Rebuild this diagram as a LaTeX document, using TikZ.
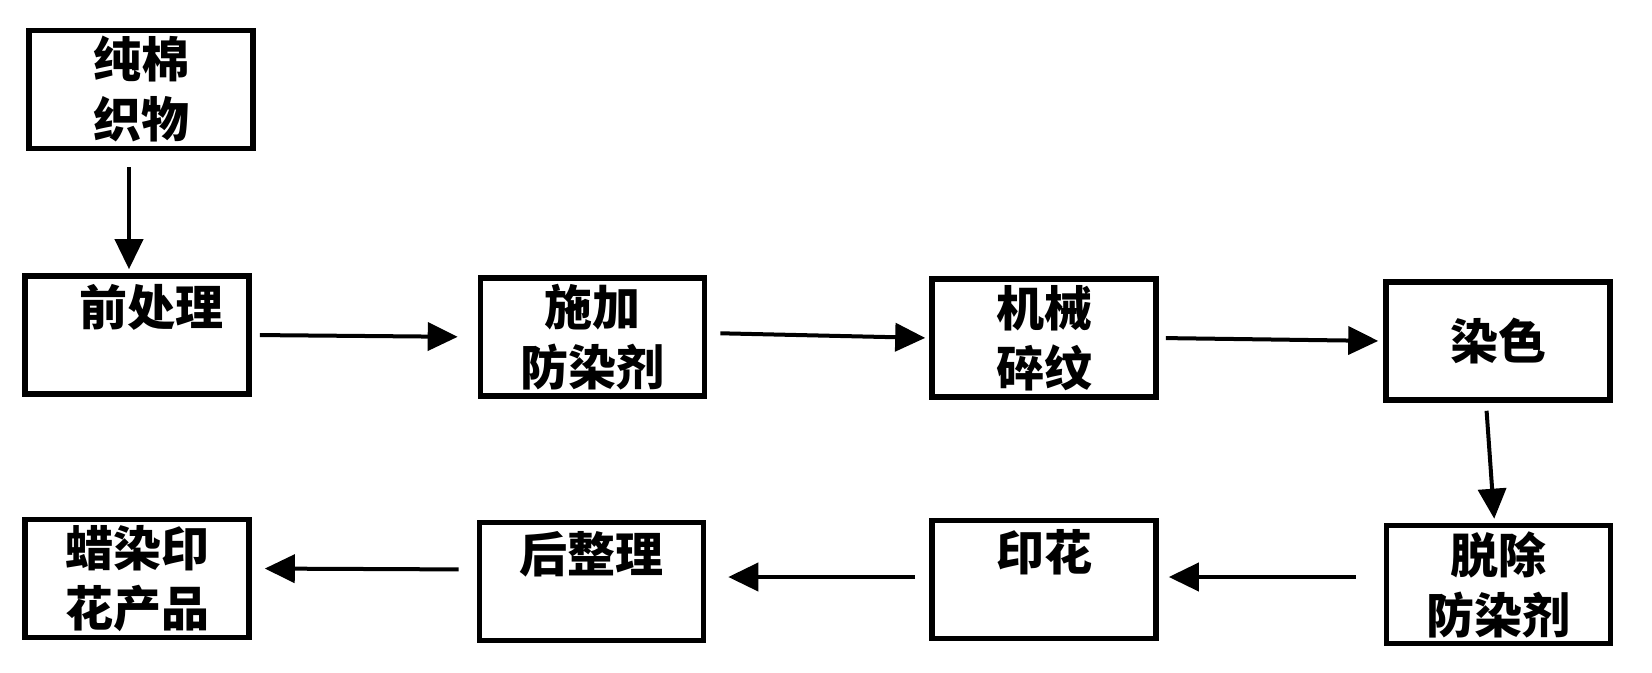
\documentclass[tikz,border=0pt]{standalone}
\usepackage{fontspec}
\newfontfamily\cjk{Noto Sans CJK SC}
\usetikzlibrary{arrows.meta}

\begin{document}
\begin{tikzpicture}[x=0.5pt,y=-0.5pt,
	box/.style={draw, line width=2.8pt, minimum width=112pt, minimum height=59pt, inner sep=2pt, align=center, font=\cjk\bfseries\fontsize{24}{30}\selectfont},
	flow/.style={line width=2pt, -{Triangle[length=15pt,width=14pt]}}]
\useasboundingbox (0,0) rectangle (1652,673);
\node[box](fab) at (141,89.5) {纯棉\\织物};
\node[box](pre) at (137,335) {\hspace{14pt}前处理\\~};
\node[box](add) at (592.5,337) {施加\\防染剂};
\node[box](mec) at (1044,338) {机械\\碎纹};
\node[box](dye) at (1498,341) {染色};
\node[box](rem) at (1498.5,584.5) {脱除\\防染剂};
\node[box](prt) at (1044,579.5) {印花\\~};
\node[box](fin) at (591.5,581.5) {后整理\\~};
\node[box](prod) at (137,578.5) {蜡染印\\花产品};
\draw[flow, shorten <=8pt, shorten >=2pt] ([xshift=-6pt]fab.south) -- ([xshift=-4pt]pre.north);
\draw[flow, shorten <=4pt, shorten >=10pt] (pre.east) -- (add.west);
\draw[flow, shorten <=6.5pt, shorten >=2pt] ([yshift=2pt]add.east) -- (mec.west);
\draw[flow, shorten <=3.5pt, shorten >=2.5pt] (mec.east) -- (dye.west);
\draw[flow, shorten <=4pt, shorten >=2pt] ([xshift=-6pt]dye.south) -- ([xshift=-2pt]rem.north);
\draw[flow, shorten <=14pt, shorten >=5pt] ([yshift=3.75pt]rem.west) -- ([yshift=1.25pt]prt.east);
\draw[flow, shorten <=7pt, shorten >=11pt] ([yshift=1.25pt]prt.west) -- ([yshift=2.25pt]fin.east);
\draw[flow, shorten <=9pt, shorten >=6.5pt] ([yshift=6pt]fin.west) -- ([yshift=5pt]prod.east);
\end{tikzpicture}
\end{document}
